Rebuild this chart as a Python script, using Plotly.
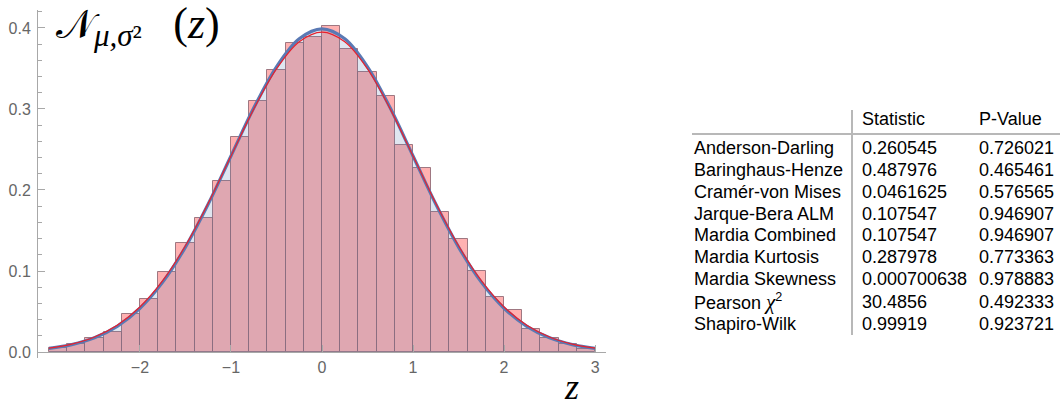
import plotly.graph_objects as go

# ---------------- data ----------------
bin_centers = [-2.9, -2.7, -2.5, -2.3, -2.1, -1.9, -1.7, -1.5, -1.3, -1.1,
               -0.9, -0.7, -0.5, -0.3, -0.1, 0.1, 0.3, 0.5, 0.7, 0.9,
               1.1, 1.3, 1.5, 1.7, 1.9, 2.1, 2.3, 2.5, 2.7, 2.9]
bin_heights = [0.0053, 0.0099, 0.0177, 0.0243, 0.0469, 0.0658, 0.0988, 0.1350, 0.1650, 0.2115,
               0.2650, 0.3100, 0.3480, 0.3810, 0.3890, 0.4030, 0.3745, 0.3457, 0.3165, 0.2556,
               0.2275, 0.1728, 0.1390, 0.1000, 0.0683, 0.0519, 0.0288, 0.0177, 0.0095, 0.0041]

curve_x = [-3.0, -2.75, -2.5, -2.25, -2.0, -1.75, -1.5, -1.25, -1.0, -0.75, -0.5, -0.25, 0.0,
           0.25, 0.5, 0.75, 1.0, 1.25, 1.5, 1.75, 2.0, 2.25, 2.5, 2.75, 3.0]
curve_blue = [0.0044, 0.0091, 0.0175, 0.0317, 0.0540, 0.0863, 0.1295, 0.1826, 0.2420, 0.3011,
              0.3521, 0.3867, 0.3989, 0.3867, 0.3521, 0.3011, 0.2420, 0.1826, 0.1295, 0.0863,
              0.0540, 0.0317, 0.0175, 0.0091, 0.0044]
curve_red = [0.0048, 0.0097, 0.0185, 0.0330, 0.0556, 0.0880, 0.1311, 0.1836, 0.2420, 0.2998,
             0.3495, 0.3831, 0.3950, 0.3831, 0.3495, 0.2998, 0.2420, 0.1836, 0.1311, 0.0880,
             0.0556, 0.0330, 0.0185, 0.0097, 0.0048]

x_tickvals = [-2, -1, 0, 1, 2, 3]
x_ticktext = ["\u22122", "\u22121", "0", "1", "2", "3"]
y_tickvals = [0.0, 0.1, 0.2, 0.3, 0.4]
y_ticktext = ["0.0", "0.1", "0.2", "0.3", "0.4"]

test_names = ["Anderson-Darling", "Baringhaus-Henze", "Cram\u00e9r-von Mises", "Jarque-Bera ALM",
              "Mardia Combined", "Mardia Kurtosis", "Mardia Skewness",
              "Pearson <span style=\"font-family:'Liberation Serif';font-size:21px\"><i>\u03c7</i></span><sup>2</sup>",
              "Shapiro-Wilk"]
test_statistic = ["0.260545", "0.487976", "0.0461625", "0.107547", "0.107547",
                  "0.287978", "0.000700638", "30.4856", "0.99919"]
test_pvalue = ["0.726021", "0.465461", "0.576565", "0.946907", "0.946907",
               "0.773363", "0.978883", "0.492333", "0.923721"]
table_header = ["Statistic", "P-Value"]

# ---------------- layout helpers (pixel -> paper) ----------------
W, H = 1062, 408
PL, PR, PT, PB = 38, 606, 10, 358


def px(x):
    return (x - PL) / (PR - PL)


def py(y):
    return (PB - y) / (PB - PT)


YMIN, YMAX = -0.0074, 0.4222
AXIS_COL = "#a8a8a8"
TICK_FONT = dict(family="Liberation Sans, Arial, sans-serif", size=16, color="#666666")

fig = go.Figure()

fig.add_trace(go.Bar(
    x=bin_centers, y=bin_heights, width=0.2,
    marker=dict(color="#ffb1b1", line=dict(color="rgba(135,95,108,0.8)", width=1)),
    showlegend=False, hoverinfo="skip"))

fig.add_trace(go.Scatter(
    x=curve_x, y=curve_blue, mode="lines", line=dict(width=0, shape="spline"),
    fill="tozeroy", fillcolor="rgba(94,129,181,0.2)", showlegend=False, hoverinfo="skip"))

fig.add_trace(go.Scatter(
    x=curve_x, y=curve_blue, mode="lines",
    line=dict(color="#5a79b4", width=3.2, shape="spline"), showlegend=False))

fig.add_trace(go.Scatter(
    x=curve_x, y=curve_red, mode="lines",
    line=dict(color="#e8202c", width=1.2, shape="spline"), showlegend=False))

fig.update_layout(
    width=W, height=H,
    margin=dict(l=PL, r=W - PR, t=PT, b=H - PB, pad=0, autoexpand=False),
    paper_bgcolor="white", plot_bgcolor="white",
    bargap=0, showlegend=False,
    xaxis=dict(range=[-3.12, 3.12], anchor="free", position=(0 - YMIN) / (YMAX - YMIN),
               showline=True, linecolor=AXIS_COL, linewidth=1,
               ticks="inside", ticklen=7, tickcolor=AXIS_COL,
               tickvals=x_tickvals, ticktext=x_ticktext, tickfont=TICK_FONT,
               showgrid=False, zeroline=False, ticklabelstandoff=1, automargin=False),
    yaxis=dict(range=[YMIN, YMAX], showline=True, linecolor=AXIS_COL, linewidth=1,
               ticks="inside", ticklen=7, tickcolor=AXIS_COL,
               tickvals=y_tickvals, ticktext=y_ticktext, tickfont=TICK_FONT,
               minor=dict(ticks="inside", ticklen=4, tickcolor=AXIS_COL, dtick=0.02, tick0=0),
               showgrid=False, zeroline=False, ticklabelstandoff=3, automargin=False),
)

# title-like label N_{mu,sigma^2}(z)
fig.add_annotation(
    xref="paper", yref="paper", x=px(54), y=py(26), xanchor="left", yanchor="middle",
    text="<span style=\"font-family:'DejaVu Serif'\">\U0001D4A9</span>"
         "<sub><span style=\"font-size:31px\"><i>\u03bc,\u03c3</i>\u00b2</span></sub>"
         "\u2002\u2009\u200a<span style=\"font-size:44px\">(<i>z</i>)</span>",
    font=dict(family="Liberation Serif, serif", size=40, color="black"), showarrow=False)

# axis label z
fig.add_annotation(
    xref="paper", yref="paper", x=px(571), y=py(387), xanchor="center", yanchor="middle",
    text="<i>z</i>", font=dict(family="Liberation Serif, serif", size=36, color="black"),
    showarrow=False)

# ---------------- table ----------------
TFONT = dict(family="Liberation Sans, Arial, sans-serif", size=18, color="black")
col_x = [692, 860, 977]
header_y = 119
row_y = [148, 170, 192, 214, 235, 257, 279, 302, 324]

for label, cx in zip(table_header, col_x[1:]):
    fig.add_annotation(xref="paper", yref="paper", x=px(cx), y=py(header_y),
                       xanchor="left", yanchor="middle", text=label, font=TFONT, showarrow=False)
for i, yy in enumerate(row_y):
    for cx, txt in zip(col_x, (test_names[i], test_statistic[i], test_pvalue[i])):
        fig.add_annotation(xref="paper", yref="paper", x=px(cx), y=py(yy),
                           xanchor="left", yanchor="middle", text=txt, font=TFONT,
                           showarrow=False)

fig.add_shape(type="line", xref="paper", yref="paper", x0=px(692), x1=px(1060),
              y0=py(134), y1=py(134), line=dict(color="#b8b8b8", width=2))
fig.add_shape(type="line", xref="paper", yref="paper", x0=px(852), x1=px(852),
              y0=py(110), y1=py(335), line=dict(color="#b8b8b8", width=2))

fig.write_html("out.html", config={"displayModeBar": False},
               post_script="document.body.style.margin='0';document.body.style.overflow='hidden';")
